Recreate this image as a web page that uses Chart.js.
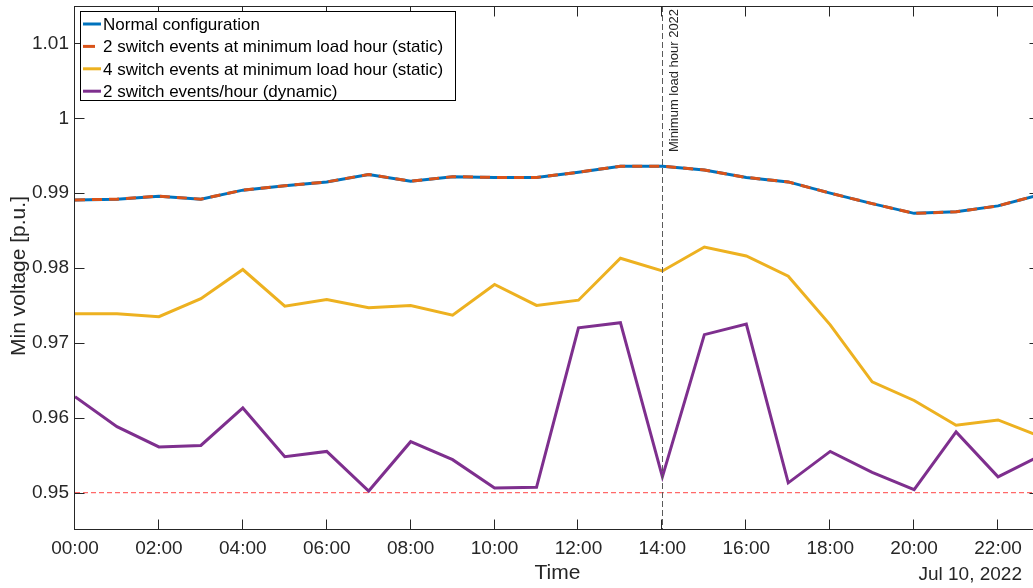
<!DOCTYPE html>
<html>
<head>
<meta charset="utf-8">
<script src="https://cdn.jsdelivr.net/npm/chart.js@4/dist/chart.umd.min.js"></script>
<style>
  html, body { margin: 0; padding: 0; background: #fff; overflow: hidden; }
  /* the original figure is cropped a few pixels inside its right border */
  #wrap { width: 1033px; height: 588px; overflow: hidden; }
  #voltageChart { display: block; }
</style>
</head>
<body>
<div id="wrap"><canvas id="voltageChart" width="1042" height="588"></canvas></div>
<script>
// hourly minimum voltage, 10 Jul 2022
const hours = [0, 1, 2, 3, 4, 5, 6, 7, 8, 9, 10, 11, 12, 13, 14, 15, 16, 17, 18, 19, 20, 21, 22, 23];
const normalConfig = [0.9891, 0.9892, 0.9896, 0.9892, 0.9904, 0.9910, 0.9915, 0.9925, 0.9916, 0.9922, 0.9921, 0.9921,
  0.9928, 0.9936, 0.9936, 0.9931, 0.9921, 0.9915, 0.9900, 0.9886, 0.9873, 0.9875, 0.9883, 0.9898];
const static2Switch = [0.9891, 0.9892, 0.9896, 0.9892, 0.9904, 0.9910, 0.9915, 0.9925, 0.9916, 0.9922, 0.9921, 0.9921,
  0.9928, 0.9936, 0.9936, 0.9931, 0.9921, 0.9915, 0.9900, 0.9886, 0.9873, 0.9875, 0.9883, 0.9898];
const static4Switch = [0.9739, 0.9739, 0.9735, 0.9759, 0.9798, 0.9749, 0.9758, 0.9747, 0.9750, 0.9737, 0.9778, 0.9750,
  0.9757, 0.9813, 0.9796, 0.9828, 0.9816, 0.9789, 0.9724, 0.9648, 0.9623, 0.9590, 0.9597, 0.9575];
const dynamic2Switch = [0.9628, 0.9588, 0.9561, 0.9563, 0.9613, 0.9548, 0.9555, 0.9502, 0.9568, 0.9544, 0.9506, 0.9507,
  0.9720, 0.9727, 0.9521, 0.9711, 0.9725, 0.9513, 0.9555, 0.9527, 0.9504, 0.9581, 0.9521, 0.9549];

const seriesNames = [
  'Normal configuration',
  '2 switch events at minimum load hour (static)',
  '4 switch events at minimum load hour (static)',
  '2 switch events/hour (dynamic)'
];

const xTicks = [0, 2, 4, 6, 8, 10, 12, 14, 16, 18, 20, 22];
const xTickLabels = ['00:00', '02:00', '04:00', '06:00', '08:00', '10:00', '12:00', '14:00', '16:00', '18:00', '20:00', '22:00'];
const yTicks = [0.95, 0.96, 0.97, 0.98, 0.99, 1.0, 1.01];
const yTickLabels = ['0.95', '0.96', '0.97', '0.98', '0.99', '1', '1.01'];

const minLoadHour = 14;
const voltageLimit = 0.95;

const FONT = '"Liberation Sans", Arial, Helvetica, sans-serif';
const AXIS_COLOR = '#262626';

function toPoints(values) {
  return values.map(function(v, i) { return { x: hours[i], y: v }; });
}

// constant lines, box with inward ticks, legend and extra labels
const matlabLook = {
  id: 'matlabLook',
  afterDatasetsDraw: function(chart) {
    const ctx = chart.ctx;
    const a = chart.chartArea;
    const xs = chart.scales.x;
    const ys = chart.scales.y;

    // voltage limit, soft red dashes
    const yl = ys.getPixelForValue(voltageLimit);
    ctx.save();
    ctx.lineWidth = 1.3;
    ctx.strokeStyle = 'rgb(255, 105, 105)';
    ctx.setLineDash([5, 3]);
    ctx.beginPath();
    ctx.moveTo(a.left, yl);
    ctx.lineTo(a.right, yl);
    ctx.stroke();
    ctx.restore();

    const xl = Math.round(xs.getPixelForValue(minLoadHour)) + 0.5;
    ctx.save();
    ctx.lineWidth = 1;
    ctx.strokeStyle = 'rgb(90, 90, 90)';
    ctx.setLineDash([6, 3]);
    ctx.beginPath();
    ctx.moveTo(xl, a.top);
    ctx.lineTo(xl, a.bottom);
    ctx.stroke();
    ctx.restore();

    ctx.save();
    ctx.fillStyle = AXIS_COLOR;
    ctx.font = '13px ' + FONT;
    ctx.translate(xl + 15, 152);
    ctx.rotate(-Math.PI / 2);
    ctx.textAlign = 'left';
    ctx.textBaseline = 'alphabetic';
    ctx.fillText('Minimum load hour 2022', 0, 0);
    ctx.restore();
  },
  afterDraw: function(chart) {
    const ctx = chart.ctx;
    const a = chart.chartArea;
    const xs = chart.scales.x;
    const ys = chart.scales.y;
    const tick = 10;

    ctx.save();
    ctx.strokeStyle = AXIS_COLOR;
    ctx.lineWidth = 1;
    ctx.setLineDash([]);
    const L = Math.round(a.left) - 0.5;
    const R = Math.round(a.right) - 0.5;
    const T = Math.round(a.top) + 0.5;
    const B = Math.round(a.bottom) - 0.5;
    ctx.strokeRect(L, T, R - L, B - T);
    ctx.beginPath();
    xTicks.forEach(function(v) {
      const px = Math.round(xs.getPixelForValue(v)) - 0.5;
      ctx.moveTo(px, B); ctx.lineTo(px, B - tick);
      ctx.moveTo(px, T); ctx.lineTo(px, T + tick);
    });
    yTicks.forEach(function(v) {
      const py = Math.round(ys.getPixelForValue(v)) + 0.5;
      ctx.moveTo(L, py); ctx.lineTo(L + tick, py);
      ctx.moveTo(R, py); ctx.lineTo(R - tick, py);
    });
    ctx.stroke();

    // y title and date stamp
    ctx.fillStyle = AXIS_COLOR;
    ctx.font = '21px ' + FONT;
    ctx.save();
    ctx.translate(25, 276);
    ctx.rotate(-Math.PI / 2);
    ctx.textAlign = 'center';
    ctx.textBaseline = 'alphabetic';
    ctx.fillText('Min voltage [p.u.]', 0, 0);
    ctx.restore();

    ctx.font = '19px ' + FONT;
    ctx.textAlign = 'right';
    ctx.textBaseline = 'alphabetic';
    ctx.fillText('Jul 10, 2022', 1022, 580);

    // legend
    const bx = 80.5, by = 11.5, bw = 375, bh = 89;
    ctx.fillStyle = '#ffffff';
    ctx.fillRect(bx, by, bw, bh);
    ctx.strokeStyle = '#000000';
    ctx.strokeRect(bx, by, bw, bh);
    ctx.font = '17px ' + FONT;
    ctx.textAlign = 'left';
    chart.data.datasets.forEach(function(ds, i) {
      const rowY = 24 + i * 22.4;
      ctx.strokeStyle = ds.borderColor;
      ctx.lineWidth = ds.borderWidth;
      // dashed sample shows a single dash, as in the original legend
      ctx.setLineDash(ds.borderDash ? [12, 12] : []);
      ctx.beginPath();
      ctx.moveTo(83, rowY);
      ctx.lineTo(101, rowY);
      ctx.stroke();
      ctx.setLineDash([]);
      ctx.fillStyle = '#000000';
      ctx.fillText(ds.label, 103, rowY + 6);
    });
    ctx.restore();
  }
};

const ctx = document.getElementById('voltageChart').getContext('2d');

// lower order is drawn on top, like later plot() calls in the original
new Chart(ctx, {
  type: 'line',
  data: {
    datasets: [
      { label: seriesNames[0], data: toPoints(normalConfig), borderColor: '#0072BD', borderWidth: 3, order: 4 },
      { label: seriesNames[1], data: toPoints(static2Switch), borderColor: '#D95319', borderWidth: 3, borderDash: [10, 7], order: 3 },
      { label: seriesNames[2], data: toPoints(static4Switch), borderColor: '#EDB120', borderWidth: 3, order: 2 },
      { label: seriesNames[3], data: toPoints(dynamic2Switch), borderColor: '#7E2F8E', borderWidth: 3, order: 1 }
    ]
  },
  options: {
    responsive: false,
    animation: false,
    devicePixelRatio: 1,
    layout: { padding: { top: 6, right: 2, bottom: 0, left: 0 } },
    elements: {
      line: { tension: 0, fill: false, borderCapStyle: 'butt', borderJoinStyle: 'miter' },
      point: { radius: 0, hoverRadius: 0 }
    },
    plugins: {
      legend: { display: false },
      tooltip: { enabled: false }
    },
    scales: {
      x: {
        type: 'linear',
        min: 0,
        max: 23,
        border: { display: false },
        grid: { display: false, drawTicks: false, tickLength: 0 },
        afterBuildTicks: function(scale) {
          scale.ticks = xTicks.map(function(v) { return { value: v }; });
        },
        afterFit: function(scale) {
          scale.height = 58;
          scale.paddingLeft = 0;
          scale.paddingRight = 0;
        },
        ticks: {
          padding: 7,
          autoSkip: false,
          maxRotation: 0,
          color: AXIS_COLOR,
          font: { family: FONT, size: 19 },
          callback: function(value) {
            const i = xTicks.indexOf(value);
            return i >= 0 ? xTickLabels[i] : '';
          }
        },
        title: {
          display: true,
          text: 'Time',
          color: AXIS_COLOR,
          font: { family: FONT, size: 21 },
          padding: { top: 0, bottom: 2 }
        }
      },
      y: {
        type: 'linear',
        min: 0.945,
        max: 1.015,
        border: { display: false },
        grid: { display: false, drawTicks: false, tickLength: 0 },
        afterBuildTicks: function(scale) {
          scale.ticks = yTicks.map(function(v) { return { value: v }; });
        },
        afterFit: function(scale) {
          scale.width = 75;
          scale.paddingTop = 0;
          scale.paddingBottom = 0;
        },
        ticks: {
          padding: 6,
          color: AXIS_COLOR,
          font: { family: FONT, size: 19 },
          callback: function(value) {
            const i = yTicks.findIndex(function(t) { return Math.abs(t - value) < 1e-9; });
            return i >= 0 ? yTickLabels[i] : '';
          }
        }
      }
    }
  },
  plugins: [matlabLook]
});
</script>
</body>
</html>
